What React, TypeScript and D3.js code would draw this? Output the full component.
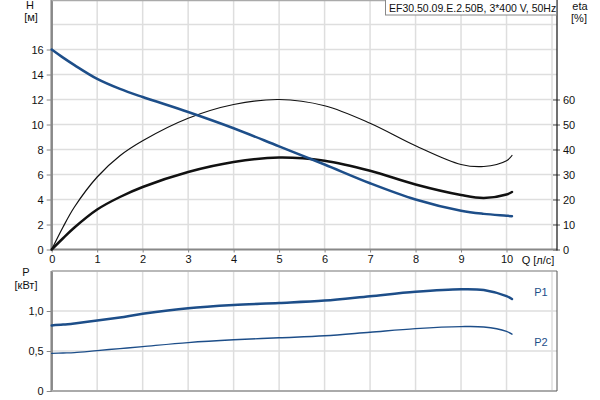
import { useEffect, useRef } from "react";
import * as d3 from "d3";

// flow points (l/s) shared by all curves
const qValues = [0, 0.25, 0.5, 1, 1.5, 2, 3, 4, 5, 6, 7, 8, 9, 9.5, 10, 10.12];
const headValues = [16, 15.35, 14.75, 13.65, 12.85, 12.2, 11.0, 9.7, 8.25, 6.8, 5.3, 4.0, 3.1, 2.85, 2.7, 2.66];
const etaThin = [0, 9, 17, 29, 37.5, 43.5, 52.5, 58, 60, 57.5, 50.5, 41.5, 34, 33.2, 35.5, 37.6];
const etaThick = [0, 4.5, 8.8, 16, 21, 25, 31, 35, 36.8, 35.5, 31.5, 26, 21.8, 20.6, 22, 23];
const p1Values = [0.82, 0.83, 0.845, 0.88, 0.92, 0.965, 1.035, 1.075, 1.1, 1.13, 1.185, 1.24, 1.272, 1.262, 1.185, 1.15];
const p2Values = [0.47, 0.475, 0.48, 0.505, 0.53, 0.555, 0.605, 0.64, 0.665, 0.69, 0.735, 0.78, 0.805, 0.8, 0.745, 0.71];

const qTicks = [0, 1, 2, 3, 4, 5, 6, 7, 8, 9, 10];
const qGrid = [1, 2, 3, 4, 5, 6, 7, 8, 9, 10, 11];
const hTicks = [0, 2, 4, 6, 8, 10, 12, 14, 16];
const hGrid = [2, 4, 6, 8, 10, 12, 14, 16, 18];
const etaTicks = [0, 10, 20, 30, 40, 50, 60];
const pTicks = [0, 0.5, 1.0];
const pGrid = [0.5, 1.0, 1.5];

const title = "EF30.50.09.E.2.50B, 3*400 V, 50Hz";
const BLUE = "#1d4e89";
const FONT = "'Liberation Sans', Arial, sans-serif";

export default function App() {
  const ref = useRef<SVGSVGElement | null>(null);

  useEffect(() => {
    if (!ref.current) return;
    const width = 600;
    const height = 400;
    const left = 51.7;
    const right = 557;

    const svg = d3.select(ref.current);
    svg.selectAll("*").remove();
    svg.attr("viewBox", `0 0 ${width} ${height}`);
    svg.append("rect").attr("width", width).attr("height", height).attr("fill", "#fff");

    const x = d3.scaleLinear().domain([0, 11.11]).range([left, right]);
    const yH = d3.scaleLinear().domain([0, 20]).range([249.5, -0.5]);
    const yEta = d3.scaleLinear().domain([0, 100]).range([249.5, -0.5]);
    const yP = d3.scaleLinear().domain([0, 1.5]).range([391, 271]);

    const grid = svg.append("g").attr("stroke", "#dedede").attr("stroke-width", 1.5);
    // top panel grid
    grid.append("g").selectAll("line").data(qGrid).join("line")
      .attr("x1", (d) => x(d)).attr("x2", (d) => x(d)).attr("y1", 0).attr("y2", yH(0));
    grid.append("g").selectAll("line").data(hGrid).join("line")
      .attr("x1", left).attr("x2", right).attr("y1", (d) => yH(d)).attr("y2", (d) => yH(d));
    // bottom panel grid
    grid.append("g").selectAll("line").data(qGrid).join("line")
      .attr("x1", (d) => x(d)).attr("x2", (d) => x(d)).attr("y1", yP(1.5)).attr("y2", yP(0));
    grid.append("g").selectAll("line").data(pGrid).join("line")
      .attr("x1", left).attr("x2", right).attr("y1", (d) => yP(d)).attr("y2", (d) => yP(d));

    // axes
    const axH = svg.append("g").attr("transform", `translate(${left},0)`)
      .call(d3.axisLeft(yH).tickValues(hTicks).tickSize(5).tickPadding(3));
    const axQ = svg.append("g").attr("transform", `translate(0,${yH(0)})`)
      .call(d3.axisBottom(x).tickValues(qTicks).tickSize(3).tickPadding(3));
    const axEta = svg.append("g").attr("transform", `translate(${right},0)`)
      .call(d3.axisRight(yEta).tickValues(etaTicks).tickSize(3).tickPadding(3));
    const axP = svg.append("g").attr("transform", `translate(${left},0)`)
      .call(d3.axisLeft(yP).tickValues(pTicks).tickSize(5).tickPadding(3)
        .tickFormat((d) => (d === 0 ? "0" : d3.format(".1f")(d as number).replace(".", ","))));
    [axH, axQ, axEta, axP].forEach((a) => {
      a.select(".domain").remove();
      a.selectAll("line").attr("stroke", "#888");
      a.selectAll("text").attr("fill", "#111").attr("font-size", 11);
      a.attr("font-family", FONT);
    });
    axEta.selectAll(".tick line").attr("x1", -4).attr("stroke", "#555");

    // frames
    const frame = svg.append("g").attr("fill", "none");
    frame.append("line").attr("x1", left).attr("x2", left).attr("y1", 0).attr("y2", yH(0) + 1)
      .attr("stroke", "#888").attr("stroke-width", 2.5);
    frame.append("line").attr("x1", left).attr("x2", right).attr("y1", 0.5).attr("y2", 0.5)
      .attr("stroke", "#aaa").attr("stroke-width", 1.5);
    frame.append("line").attr("x1", left).attr("x2", right).attr("y1", yH(0)).attr("y2", yH(0))
      .attr("stroke", "#888").attr("stroke-width", 2);
    frame.append("line").attr("x1", right).attr("x2", right).attr("y1", 0).attr("y2", yH(0) + 1)
      .attr("stroke", "#111").attr("stroke-width", 1.2);
    frame.append("line").attr("x1", left).attr("x2", left).attr("y1", yP(1.5)).attr("y2", yP(0) + 1)
      .attr("stroke", "#888").attr("stroke-width", 2.5);
    frame.append("line").attr("x1", left).attr("x2", right).attr("y1", yP(1.5)).attr("y2", yP(1.5))
      .attr("stroke", "#aaa").attr("stroke-width", 1.5);
    frame.append("line").attr("x1", left).attr("x2", right).attr("y1", yP(0)).attr("y2", yP(0))
      .attr("stroke", "#aaa").attr("stroke-width", 2);
    frame.append("line").attr("x1", right).attr("x2", right).attr("y1", yP(1.5)).attr("y2", yP(0))
      .attr("stroke", "#555").attr("stroke-width", 1);

    // curves
    const curve = (ys: number[], yScale: d3.ScaleLinear<number, number>) =>
      d3.line<number>()
        .x((_, i) => x(qValues[i]))
        .y((d) => yScale(d))
        .curve(d3.curveCatmullRom.alpha(0.5))(ys);

    const curves = svg.append("g").attr("fill", "none").attr("stroke-linecap", "round");
    curves.append("path").attr("d", curve(etaThin, yEta)).attr("stroke", "#111").attr("stroke-width", 1.2);
    curves.append("path").attr("d", curve(etaThick, yEta)).attr("stroke", "#111").attr("stroke-width", 2.5);
    curves.append("path").attr("d", curve(headValues, yH)).attr("stroke", BLUE).attr("stroke-width", 2.5);
    curves.append("path").attr("d", curve(p1Values, yP)).attr("stroke", BLUE).attr("stroke-width", 2.5);
    curves.append("path").attr("d", curve(p2Values, yP)).attr("stroke", BLUE).attr("stroke-width", 1.4);

    // labels
    const lbl = (tx: string, px: number, py: number, anchor = "middle", fill = "#111", size = 11) =>
      svg.append("text").attr("x", px).attr("y", py).attr("text-anchor", anchor)
        .attr("font-family", FONT).attr("font-size", size).attr("fill", fill).text(tx);

    lbl("H", 30, 9);
    lbl("[м]", 31, 21);
    lbl("eta", 580, 10);
    lbl("[%]", 579, 22);
    lbl("P", 26, 276);
    lbl("[кВт]", 26, 289);
    lbl("Q [л/с]", 538, 264);
    lbl("P1", 541, 296, "middle", BLUE);
    lbl("P2", 541, 346, "middle", BLUE);

    // title box
    svg.append("rect").attr("x", 385.5).attr("y", -1).attr("width", 171).attr("height", 16)
      .attr("fill", "#fff").attr("stroke", "#888");
    lbl(title, 389, 11.5, "start", "#111", 10.5);
  }, []);

  return (
    <div style={{ position: "absolute", left: 0, top: 0 }}>
      <svg ref={ref} width={600} height={400} role="img" aria-label="Pump performance curves" style={{ display: "block" }} />
    </div>
  );
}
